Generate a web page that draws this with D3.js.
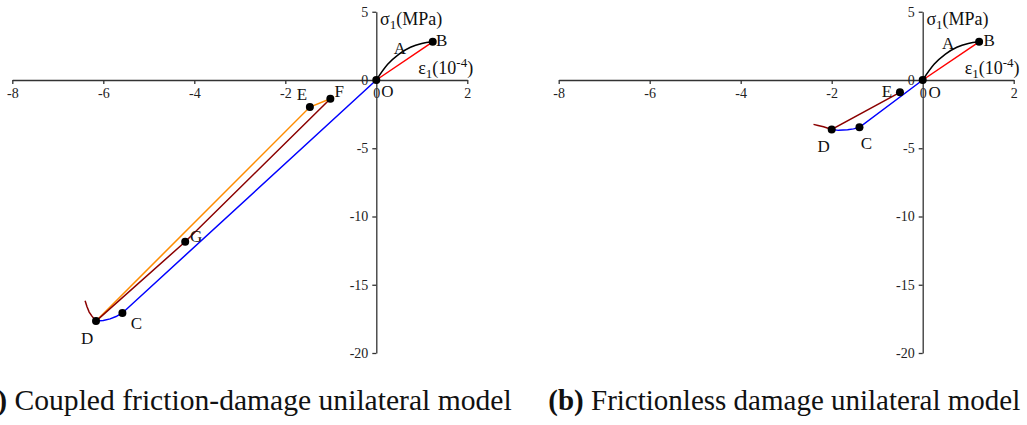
<!DOCTYPE html>
<html>
<head>
<meta charset="utf-8">
<script src="https://cdn.jsdelivr.net/npm/d3@7"></script>
<style>
  html, body { margin: 0; padding: 0; background: #fff; }
  svg { display: block; font-family: "Liberation Serif", "Times New Roman", serif; }
</style>
</head>
<body>
<svg id="chart" width="1027" height="425"></svg>
<script>
// Axis ticks (strain in 1e-4, stress in MPa)
const xTicks = [-8, -6, -4, -2, 0, 2];
const yTicks = [5, 0, -5, -10, -15, -20];

// Tensile loading branch O-A-B and the secant O-B (same for both models)
const loadingCurve = [[0, 0], [0.25, 1.15], [0.5, 1.9], [0.75, 2.4], [1.0, 2.68], [1.24, 2.8]];
const secantOB = [[0, 0], [1.24, 2.8]];

// (a) coupled friction-damage model
const aCompression = [[0, 0], [-5.58, -17.07], [-5.72, -17.33], [-5.85, -17.50], [-6.0, -17.62], [-6.16, -17.66]];
const aUnloading = [[-6.40, -16.17], [-6.36, -16.6], [-6.31, -17.0], [-6.25, -17.3], [-6.16, -17.66], [-4.2, -11.85], [-1.01, -1.37]];
const aReloading = [[-6.16, -17.66], [-1.46, -1.98], [-1.01, -1.37]];
const aPoints = [
  { name: "O", p: [0, 0] },
  { name: "B", p: [1.24, 2.8] },
  { name: "C", p: [-5.58, -17.07] },
  { name: "D", p: [-6.16, -17.66] },
  { name: "E", p: [-1.46, -1.98] },
  { name: "F", p: [-1.01, -1.37] },
  { name: "G", p: [-4.2, -11.85] }
];

// (b) frictionless damage model
const bCompression = [[0, 0], [-1.39, -3.47], [-1.52, -3.58], [-1.65, -3.65], [-1.85, -3.69], [-2.0, -3.62]];
const bUnloading = [[-2.4, -3.25], [-2.3, -3.33], [-2.18, -3.43], [-2.08, -3.53], [-2.0, -3.62], [-0.5, -0.9]];
const bPoints = [
  { name: "O", p: [0, 0] },
  { name: "B", p: [1.24, 2.8] },
  { name: "C", p: [-1.39, -3.47] },
  { name: "D", p: [-2.0, -3.62] },
  { name: "E", p: [-0.5, -0.9] }
];

const svg = d3.select("#chart");
const serif = "Liberation Serif, Times New Roman, serif";

function drawPanel(cfg) {
  const x = d3.scaleLinear().domain([-8, 2]).range(cfg.xRange);
  const y = d3.scaleLinear().domain([5, -20]).range([11.75, 353]);
  const g = svg.append("g");

  // axes crossing at the origin
  const xAxis = g.append("g")
    .attr("transform", `translate(0,${y(0)})`)
    .call(d3.axisBottom(x).tickValues(xTicks).tickSize(4).tickSizeOuter(0).tickPadding(4).tickFormat(d => String(d)));
  const yAxis = g.append("g")
    .attr("transform", `translate(${x(0)},0)`)
    .call(d3.axisLeft(y).tickValues(yTicks).tickSize(4).tickSizeOuter(0).tickPadding(4).tickFormat(d => String(d)));
  [xAxis, yAxis].forEach(a => {
    a.attr("font-family", serif).attr("font-size", 14);
    a.selectAll("path, line").attr("stroke", "#333").attr("stroke-width", 1.3);
    a.selectAll("text").attr("fill", "#222");
  });

  // axis titles
  const sig = g.append("text").attr("x", x(0) + 3.7).attr("y", 25).attr("font-size", 18).attr("fill", "#111");
  sig.append("tspan").text("σ");
  sig.append("tspan").attr("font-size", 13).attr("dy", 4).text("1");
  sig.append("tspan").attr("dy", -4).text("(MPa)");

  const eps = g.append("text").attr("x", x(0) + 42).attr("y", 74).attr("font-size", 18).attr("fill", "#111");
  eps.append("tspan").text("ε");
  eps.append("tspan").attr("font-size", 13).attr("dy", 4).text("1");
  eps.append("tspan").attr("dy", -4).text("(10");
  eps.append("tspan").attr("font-size", 13).attr("dy", -7).text("-4");
  eps.append("tspan").attr("dy", 7).text(")");

  const line = d3.line().x(d => x(d[0])).y(d => y(d[1]));
  const smooth = d3.line().x(d => x(d[0])).y(d => y(d[1])).curve(d3.curveMonotoneX);

  cfg.series.forEach(s => {
    g.append("path")
      .datum(s.data)
      .attr("d", s.smooth ? smooth : line)
      .attr("fill", "none")
      .attr("stroke", s.color)
      .attr("stroke-width", 1.5);
  });

  // state points
  g.selectAll("circle.pt").data(cfg.points).join("circle")
    .attr("class", "pt")
    .attr("cx", d => x(d.p[0])).attr("cy", d => y(d.p[1]))
    .attr("r", 4).attr("fill", "#000");

  g.selectAll("text.pl").data(cfg.points).join("text")
    .attr("class", "pl")
    .attr("x", d => x(d.p[0]) + cfg.offsets[d.name][0])
    .attr("y", d => y(d.p[1]) + cfg.offsets[d.name][1])
    .attr("text-anchor", "middle").attr("dominant-baseline", "central")
    .attr("font-size", 17).attr("fill", "#111")
    .text(d => d.name);

  // curve label A on the loading branch
  g.append("text")
    .attr("x", x(cfg.labelA[0])).attr("y", y(cfg.labelA[1]))
    .attr("text-anchor", "middle").attr("dominant-baseline", "central")
    .attr("font-size", 17).attr("fill", "#111")
    .text("A");

  // caption
  const cap = svg.append("text")
    .attr("x", cfg.caption.x).attr("y", 410)
    .attr("text-anchor", cfg.caption.anchor)
    .attr("font-size", cfg.caption.size).attr("fill", "#111");
  cap.append("tspan").attr("font-weight", "bold").text(cfg.caption.tag);
  cap.append("tspan").text(" " + cfg.caption.text);
}

drawPanel({
  xRange: [12.3, 467.3],
  series: [
    { data: aCompression, color: "#0000ff" },
    { data: aReloading, color: "#ff8c00" },
    { data: aUnloading, color: "#8b0000" },
    { data: secantOB, color: "#ff0000" },
    { data: loadingCurve, color: "#000", smooth: true }
  ],
  points: aPoints,
  offsets: { O: [11, 11], B: [9, -1], C: [14, 10], D: [-9, 17], E: [-8, -13], F: [9, -7], G: [11, -5] },
  labelA: [0.52, 2.34],
  caption: { x: 511.7, anchor: "end", size: 29.6, tag: "(a)", text: "Coupled friction-damage unilateral model" }
});

drawPanel({
  xRange: [558.7, 1013.7],
  series: [
    { data: bCompression, color: "#0000ff" },
    { data: bUnloading, color: "#8b0000" },
    { data: secantOB, color: "#ff0000" },
    { data: loadingCurve, color: "#000", smooth: true }
  ],
  points: bPoints,
  offsets: { O: [12, 12], B: [10, -1], C: [7, 16], D: [-8, 17], E: [-13, -1] },
  labelA: [0.56, 2.69],
  caption: { x: 548.3, anchor: "start", size: 29, tag: "(b)", text: "Frictionless damage unilateral model" }
});
</script>
</body>
</html>
